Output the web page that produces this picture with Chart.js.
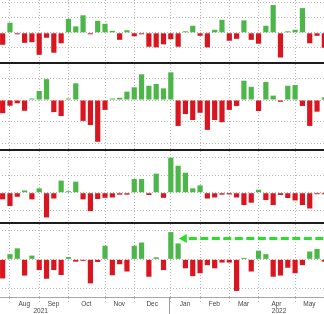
<!DOCTYPE html>
<html>
<head>
<meta charset="utf-8">
<script src="https://cdn.jsdelivr.net/npm/chart.js@4"></script>
<style>
  html, body { margin: 0; padding: 0; background: #fff; }
  body { width: 324px; height: 314px; overflow: hidden; position: relative; }
  .panel { position: absolute; left: -1px; width: 329px; }
  .sep { position: absolute; left: 0; width: 324px; height: 2px; background: #1c1c1c; }
</style>
</head>
<body>
<div class="panel" style="top:0;height:62px"><canvas id="p1"></canvas></div>
<div class="sep" style="top:62px"></div>
<div class="panel" style="top:64px;height:85px"><canvas id="p2"></canvas></div>
<div class="sep" style="top:149px"></div>
<div class="panel" style="top:151px;height:71px"><canvas id="p3"></canvas></div>
<div class="sep" style="top:222px"></div>
<div class="panel" style="top:224px;height:90px"><canvas id="p4"></canvas></div>
<script>
// weekly observations (Fridays)
const weeks = [
  '2021-07-30',
  '2021-08-06', '2021-08-13', '2021-08-20', '2021-08-27',
  '2021-09-03', '2021-09-10', '2021-09-17', '2021-09-24',
  '2021-10-01', '2021-10-08', '2021-10-15', '2021-10-22', '2021-10-29',
  '2021-11-05', '2021-11-12', '2021-11-19', '2021-11-26',
  '2021-12-03', '2021-12-10', '2021-12-17', '2021-12-24', '2021-12-31',
  '2022-01-07', '2022-01-14', '2022-01-21', '2022-01-28',
  '2022-02-04', '2022-02-11', '2022-02-18', '2022-02-25',
  '2022-03-04', '2022-03-11', '2022-03-18', '2022-03-25',
  '2022-04-01', '2022-04-08', '2022-04-15', '2022-04-22', '2022-04-29',
  '2022-05-06', '2022-05-13', '2022-05-20', '2022-05-27',
  '2022-06-03'
];

const flowsA = [-8, 6.7, -1, -6.7, -6.3, -14.7, -3.3, -13.3, -7, 9.3, 4.3, 11.7, -1, 8, 6, 1.3, -4.7, 1.7, -2.3, -0.7, -9.3, -9.7, -7.7, -4.3, -9.3, 1, 4.7, -2, -9.7, 2, 8.7, -5.3, -4, 8.3, -4.7, -7.3, 4.7, 18.5, -16.5, 1, 2, 16.5, -7, -2, -10];
const flowsB = [-6, -2.6, -1.5, -4.9, 0.2, 4.1, 9.5, -5.5, -7.3, 0.5, 7.6, -9.5, -11.4, -19, -4.5, 0.1, 1, 3.8, 5.8, 11.7, 6.5, 7.3, 5.3, 12.6, -11.8, -6.4, -9.1, -5.8, -13.6, -9.1, -10.1, -4.5, -2.7, 8.8, 6, -5, 8.2, 2, -0.8, 6.5, 6.8, -2.7, -11.8, -5.3, 1.2];
const flowsC = [-3.8, -7.6, -2.3, 1.3, -3.8, 2.5, -14.1, -3.3, 6.9, 0.2, 6.3, -3.8, -10.5, -3.6, -2.9, -2.7, -1.1, -1.1, 7.8, 7.8, -1.3, 10.9, -2.9, 20, 15.4, 11.4, 2.5, 4.2, -3.3, -2.7, -1.1, -1, -2.7, -7, -5.7, 1.7, -4.2, -7, -1.3, -3, -4.4, -7, -9, -0.7, -0.7];
const flowsD = [-6.6, 1.8, 3.8, -5.6, 1.3, -3.7, -6.7, -3.7, -5.4, 0.8, -0.8, -0.2, -8.3, -0.9, 4.7, -5.5, -1.7, -4.2, 4.7, 5.8, -6, 0.7, -3.7, 9.4, 5.5, -3.1, -5.8, -4.8, -2, -3.1, -1.1, -1.1, -10.9, 0.5, -4.2, 3, 1.8, -6, -5.6, -2.9, -4.8, -2, 2.7, 3.6, -0.8];

const monthKeys = ['2021-08', '2021-09', '2021-10', '2021-11', '2021-12', '2022-01', '2022-02', '2022-03', '2022-04', '2022-05'];
const monthLabels = ['Aug', 'Sep', 'Oct', 'Nov', 'Dec', 'Jan', 'Feb', 'Mar', 'Apr', 'May'];
const yearLabels = ['2021', '2022'];

// dashed "since January" marker in the bottom panel
const arrowFrom = 23;
const arrowLevel = 7.2;

const GREEN = '#4cb648';
const RED = '#d9151f';
const GRID = '#b5b5b5';

// gridlines sit on the first week of each month
const monthStarts = [];
weeks.forEach((w, i) => {
  if (i > 0 && w.slice(0, 7) !== weeks[i - 1].slice(0, 7)) monthStarts.push(i);
});

const arrow = {
  id: 'arrow',
  afterDatasetsDraw(chart) {
    const { ctx, chartArea, scales: { x, y } } = chart;
    const yy = y.getPixelForValue(arrowLevel);
    const tip = x.getPixelForValue(arrowFrom) + 8;
    ctx.save();
    ctx.fillStyle = '#2ade2a';
    ctx.strokeStyle = '#2ade2a';
    ctx.beginPath();
    ctx.moveTo(tip, yy);
    ctx.lineTo(tip + 8, yy - 4.5);
    ctx.lineTo(tip + 8, yy + 4.5);
    ctx.closePath();
    ctx.fill();
    ctx.lineWidth = 3;
    ctx.setLineDash([8, 3.5]);
    ctx.beginPath();
    ctx.moveTo(tip + 10, yy);
    ctx.lineTo(chartArea.right, yy);
    ctx.stroke();
    ctx.restore();
  }
};

const axisText = {
  id: 'axisText',
  afterDraw(chart) {
    const { ctx, chartArea, scales: { x } } = chart;
    const x0 = x.getPixelForValue(0);
    const step = x.getPixelForValue(1) - x0;
    const at = (i) => x0 + i * step;
    ctx.save();
    // year separator
    ctx.strokeStyle = '#9a9a9a';
    ctx.lineWidth = 1;
    ctx.beginPath();
    ctx.moveTo(Math.round(at(arrowFrom)) - 1.5, chartArea.bottom);
    ctx.lineTo(Math.round(at(arrowFrom)) - 1.5, chart.height);
    ctx.stroke();

    ctx.fillStyle = '#444';
    ctx.font = '6.5px "Liberation Sans", Arial, sans-serif';
    ctx.textAlign = 'center';
    monthKeys.forEach((key, j) => {
      const idx = [];
      weeks.forEach((w, i) => { if (w.slice(0, 7) === key) idx.push(i); });
      const mid = idx.reduce((a, b) => a + b, 0) / idx.length + 0.45;
      ctx.fillText(monthLabels[j], at(mid), chartArea.bottom + 9);
    });
    ctx.fillText(yearLabels[0], at(5.2), chartArea.bottom + 16.3);
    ctx.fillText(yearLabels[1], at(37.8), chartArea.bottom + 16.3);
    ctx.restore();
  }
};

function panel(id, values, min, max, isBottom, plugins) {
  return new Chart(document.getElementById(id), {
    type: 'bar',
    data: {
      labels: weeks,
      datasets: [{
        data: values,
        backgroundColor: values.map((v) => (v >= 0 ? GREEN : RED)),
        barPercentage: 0.71,
        categoryPercentage: 1,
        minBarLength: 1.5,
        borderWidth: 0
      }]
    },
    options: {
      responsive: true,
      maintainAspectRatio: false,
      animation: false,
      layout: { padding: 0 },
      plugins: { legend: { display: false }, tooltip: { enabled: false } },
      scales: {
        x: {
          grid: {
            offset: false,
            color: (c) => (monthStarts.includes(c.index) ? GRID : 'rgba(0,0,0,0)'),
            drawTicks: isBottom,
            tickLength: 7,
            tickBorderDash: [1, 2]
          },
          border: { display: isBottom, color: '#a8a8a8', dash: [1, 2] },
          ticks: { display: false, autoSkip: false },
          afterFit: (s) => { s.height = isBottom ? 17 : 0; }
        },
        y: {
          min: min,
          max: max,
          grid: { color: GRID, drawTicks: false },
          border: { display: false, dash: [1, 2] },
          ticks: { display: false, stepSize: 10, includeBounds: false },
          afterFit: (s) => { s.width = 0; }
        }
      }
    },
    plugins: plugins
  });
}

panel('p1', flowsA, -19.5, 21.9, false, []);
panel('p2', flowsB, -22.3, 16.4, false, []);
panel('p3', flowsC, -16.7, 23.8, false, []);
panel('p4', flowsD, -13.0, 12.2, true, [arrow, axisText]);
</script>
</body>
</html>
